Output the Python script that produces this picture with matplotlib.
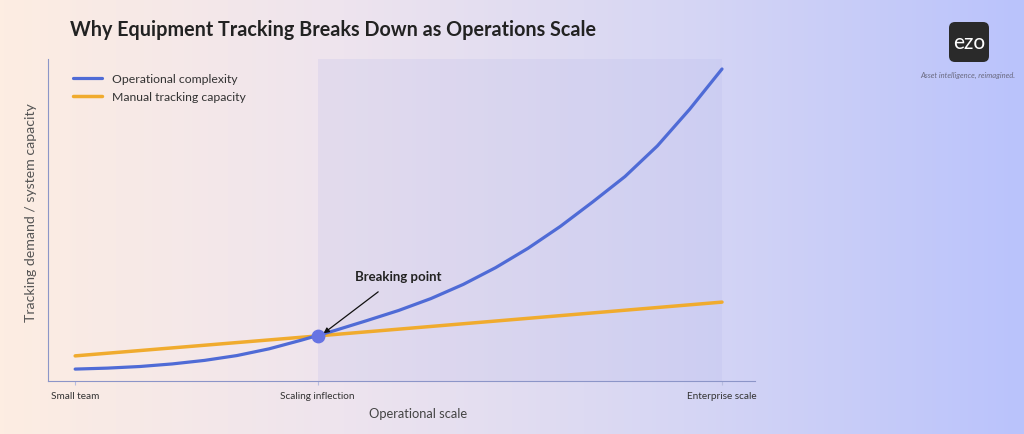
import matplotlib
matplotlib.use('Agg')
import matplotlib.pyplot as plt
import numpy as np
from matplotlib.colors import LinearSegmentedColormap
from matplotlib.patches import FancyBboxPatch

plt.rcParams['font.family'] = ['Lato', 'DejaVu Sans']

# data (x: 0 = small team, 1 = enterprise scale)
scale_x = [0.00, 0.05, 0.10, 0.15, 0.20, 0.25, 0.30, 0.35, 0.40, 0.45, 0.50,
           0.55, 0.60, 0.65, 0.70, 0.75, 0.80, 0.85, 0.90, 0.95, 1.00]
complexity = [3.7, 4.0, 4.5, 5.3, 6.4, 7.9, 10.0, 12.7, 15.6, 18.7, 21.9,
              25.6, 30.0, 35.2, 41.2, 48.0, 55.6, 63.5, 73.0, 84.4, 96.9]
manual_x = [0.0, 0.375, 1.0]
manual_capacity = [7.8, 14.0, 24.5]
break_x, break_y = 0.376, 14.0
tick_pos = [0.0, 0.375, 1.0]
tick_labels = ['Small team', 'Scaling inflection', 'Enterprise scale']

blue = '#4f6bd6'
orange = '#f0ab2e'

fig = plt.figure(figsize=(10.24, 4.35), dpi=100)

# background gradient
bg = fig.add_axes([0, 0, 1, 1], zorder=-10)
cmap = LinearSegmentedColormap.from_list('bg', ['#fdede2', '#eee4ee', '#d6d6f4', '#bac3fc'])
grad = np.linspace(0, 1, 512).reshape(1, -1)
bg.imshow(grad, aspect='auto', cmap=cmap, extent=[0, 1, 0, 1])
bg.axis('off')

ax = fig.add_axes([48/1024, 53/435, 707/1024, 322/435])
ax.set_facecolor('none')
ax.set_xlim(-0.042, 1.051)
ax.set_ylim(0, 100)

ax.axvspan(0.375, 1.0, color='#b4b6ea', alpha=0.2, lw=0, zorder=0)

ax.plot(scale_x, complexity, color=blue, lw=2.3, label='Operational complexity',
        solid_capstyle='round', solid_joinstyle='round', zorder=3)
ax.plot(manual_x, manual_capacity, color=orange, lw=2.5, label='Manual tracking capacity',
        solid_capstyle='round', zorder=2)
ax.scatter([break_x], [break_y], s=80, color='#6673e3', zorder=4)

ax.annotate('Breaking point', xy=(break_x + 0.008, break_y + 0.8),
            xytext=(0.50, 32.5), ha='center', va='center',
            fontsize=9.5, fontweight='bold', color='#222222',
            arrowprops=dict(arrowstyle='-|>', color='#111111', lw=0.9,
                            mutation_scale=8, shrinkA=8, shrinkB=0))

ax.spines['top'].set_visible(False)
ax.spines['right'].set_visible(False)
ax.spines['left'].set_color('#8c95c8')
ax.spines['bottom'].set_color('#8c95c8')
ax.set_yticks([])
ax.set_xticks(tick_pos)
ax.set_xticklabels(tick_labels, fontsize=7.2, color='#333333')
ax.tick_params(axis='x', length=3, color='#b8bde0', pad=4)

ax.set_xlabel('Operational scale', fontsize=9.3, color='#444444')
ax.xaxis.set_label_coords(0.523, -0.082)
ax.set_ylabel('Tracking demand / system capacity', fontsize=10.2, color='#555555')
ax.yaxis.set_label_coords(-0.016, 0.525)

leg = ax.legend(loc='upper left', bbox_to_anchor=(0.02, 0.99), frameon=False,
                fontsize=8.8, handlelength=2.4, handletextpad=0.8, labelspacing=0.55,
                labelcolor='#333333')

fig.text(70/1024, 1 - 30/435, 'Why Equipment Tracking Breaks Down as Operations Scale',
         fontsize=14.2, fontweight='bold', color='#222222', va='center', ha='left')

# logo
logo = fig.add_axes([948/1024, 1 - 64/435, 42/1024, 42/435])
logo.set_xlim(0, 42)
logo.set_ylim(0, 42)
logo.axis('off')
logo.add_patch(FancyBboxPatch((1, 1), 40, 40, boxstyle='round,pad=0,rounding_size=6',
                              fc='#2a2a2a', ec='none'))
logo.text(21, 21, 'ezo', color='white', fontsize=15, ha='center', va='center')
fig.text(968/1024, 1 - 75/435, 'Asset intelligence, reimagined.', fontsize=5.5,
         style='italic', color='#6a6a80', ha='center', va='center')

fig.savefig('out.png', dpi=100)
